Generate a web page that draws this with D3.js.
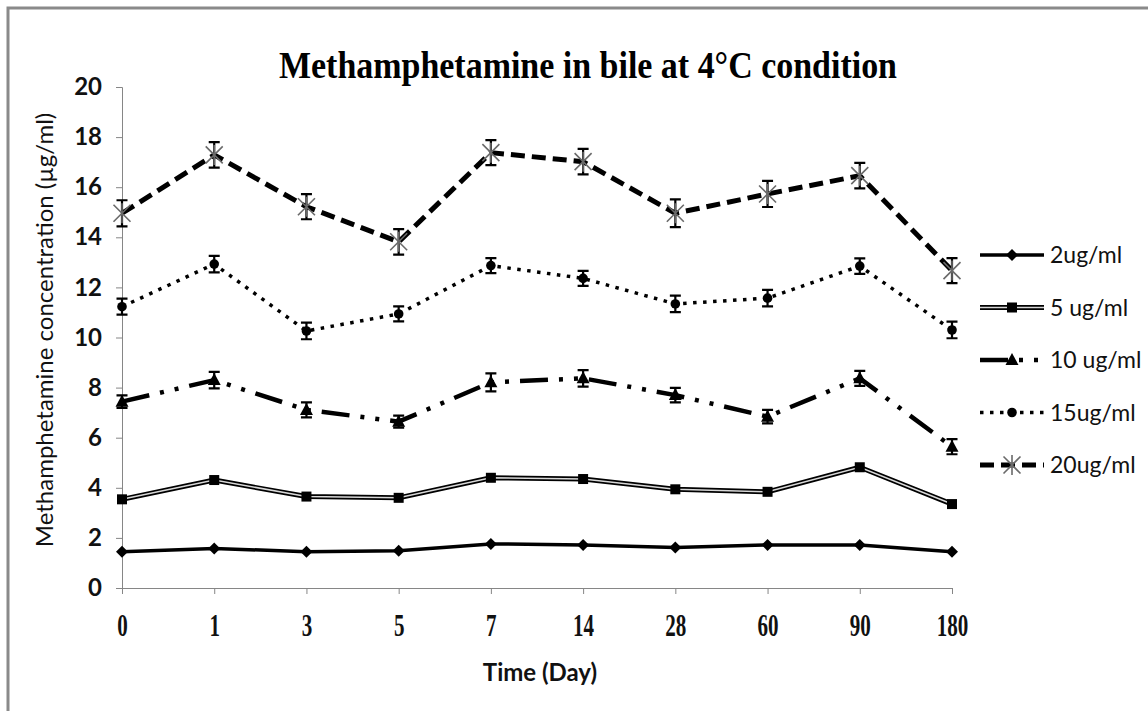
<!DOCTYPE html>
<html>
<head>
<meta charset="utf-8">
<script src="https://cdn.jsdelivr.net/npm/d3@7"></script>
<style>
  body { margin: 0; background: #fff; }
  svg { display: block; }
</style>
</head>
<body>
<svg class="visualization" width="1148" height="711"></svg>
<script>
    // values
    var days = ["0", "1", "3", "5", "7", "14", "28", "60", "90", "180"];
    var conc2 = [1.45, 1.58, 1.45, 1.49, 1.76, 1.72, 1.62, 1.72, 1.72, 1.45];
    var conc5 = [3.54, 4.31, 3.65, 3.60, 4.40, 4.35, 3.94, 3.84, 4.82, 3.35];
    var conc10 = [7.44, 8.30, 7.11, 6.64, 8.21, 8.37, 7.70, 6.84, 8.37, 5.64];
    var conc15 = [11.23, 12.93, 10.26, 10.94, 12.87, 12.36, 11.34, 11.57, 12.85, 10.30];
    var conc20 = [14.96, 17.29, 15.22, 13.82, 17.38, 17.02, 14.96, 15.73, 16.46, 12.67];
    var err10 = [0.25, 0.33, 0.30, 0.24, 0.36, 0.33, 0.29, 0.27, 0.30, 0.30];
    var err15 = [0.32, 0.33, 0.33, 0.30, 0.30, 0.30, 0.33, 0.33, 0.31, 0.33];
    var err20 = [0.52, 0.51, 0.50, 0.51, 0.50, 0.51, 0.55, 0.52, 0.51, 0.50];
    var seriesNames = ["2ug/ml", "5 ug/ml", "10 ug/ml", "15ug/ml", "20ug/ml"];
    var yTicks = [0, 2, 4, 6, 8, 10, 12, 14, 16, 18, 20];

    var svg = d3.select(".visualization");

    var xScale = d3.scalePoint().domain(days).range([122, 952]);
    var yScale = d3.scaleLinear().domain([0, 20]).range([588, 87]);

    // outer frame
    svg.append("rect")
        .attr("x", 8).attr("y", 8)
        .attr("width", 1300).attr("height", 900)
        .attr("fill", "#fff")
        .attr("stroke", "#8a8a8a")
        .attr("stroke-width", 3);

    // title (degree mark kept in the same text run)
    svg.append("text")
        .attr("x", 588).attr("y", 78)
        .attr("text-anchor", "middle")
        .attr("font-family", "'Liberation Serif', 'Times New Roman', serif")
        .attr("font-weight", "bold")
        .attr("font-size", 38)
        .attr("textLength", 618)
        .attr("lengthAdjust", "spacingAndGlyphs")
        .text("Methamphetamine in bile at 4\u00b0C condition");

    // axes
    var yAxis = svg.append("g")
        .attr("transform", "translate(122,0)")
        .call(d3.axisLeft(yScale).tickValues(yTicks).tickSize(6).tickPadding(14).tickFormat(d3.format("d")));
    yAxis.select(".domain").attr("stroke", "#868686");
    yAxis.selectAll(".tick line").attr("stroke", "#868686");
    yAxis.selectAll(".tick text")
        .attr("font-family", "Lato, 'Open Sans', sans-serif")
        .attr("font-weight", "bold")
        .attr("font-size", 24)
        .attr("fill", "#111");

    var xAxis = svg.append("g")
        .attr("transform", "translate(0,588)")
        .call(d3.axisBottom(xScale).tickSize(6).tickPadding(20));
    xAxis.select(".domain").attr("stroke", "#868686");
    xAxis.selectAll(".tick line").attr("stroke", "#868686");
    xAxis.selectAll(".tick text")
        .attr("font-family", "'Liberation Serif', 'Times New Roman', serif")
        .attr("font-weight", "bold")
        .attr("font-size", 31)
        .attr("fill", "#111")
        .attr("transform", "scale(0.68,1)");

    svg.append("text")
        .attr("x", 540).attr("y", 681)
        .attr("text-anchor", "middle")
        .attr("font-family", "Lato, 'Open Sans', sans-serif")
        .attr("font-weight", "bold")
        .attr("font-size", 24)
        .attr("fill", "#111")
        .text("Time (Day)");

    svg.append("text")
        .attr("transform", "translate(53,330) rotate(-90)")
        .attr("text-anchor", "middle")
        .attr("font-family", "Lato, 'Open Sans', sans-serif")
        .attr("font-size", 24)
        .attr("fill", "#111")
        .text("Methamphetamine concentration (\u00b5g/ml)");

    // marker shapes
    function drawMarker(g, kind) {
        if (kind === "diamond") {
            g.append("path").attr("d", "M0,-6L6,0L0,6L-6,0Z").attr("fill", "#000");
        } else if (kind === "square") {
            g.append("rect").attr("x", -5).attr("y", -5).attr("width", 10).attr("height", 10).attr("fill", "#000");
        } else if (kind === "triangle") {
            g.append("path").attr("d", "M0,-7L6.5,5L-6.5,5Z").attr("fill", "#000");
        } else if (kind === "circle") {
            g.append("circle").attr("r", 4.8).attr("fill", "#000");
        } else if (kind === "star") {
            g.append("path").attr("d", "M-8.5,-8.5L8.5,8.5M-8.5,8.5L8.5,-8.5M0,-10L0,10")
                .attr("stroke", "#6a6a6a").attr("stroke-width", 1.6).attr("fill", "none");
        }
    }

    var series = [
        { name: seriesNames[0], values: conc2, err: null, marker: "diamond", width: 3.5, dash: null },
        { name: seriesNames[1], values: conc5, err: null, marker: "square", width: 5, dash: null, inner: true },
        { name: seriesNames[2], values: conc10, err: err10, marker: "triangle", width: 4.5, dash: "28,11,4,11,4,11" },
        { name: seriesNames[3], values: conc15, err: err15, marker: "circle", width: 3.5, dash: "3.5,6.5" },
        { name: seriesNames[4], values: conc20, err: err20, marker: "star", width: 5, dash: "14,7" }
    ];

    var line = d3.line()
        .x(function (d, i) { return xScale(days[i]); })
        .y(function (d) { return yScale(d); });

    series.forEach(function (s) {
        var g = svg.append("g");
        g.append("path")
            .attr("d", line(s.values))
            .attr("fill", "none")
            .attr("stroke", "#000")
            .attr("stroke-width", s.width)
            .attr("stroke-dasharray", s.dash)
            .attr("stroke-linejoin", "round");
        if (s.inner) {
            g.append("path")
                .attr("d", line(s.values))
                .attr("fill", "none")
                .attr("stroke", "#d8d8d8")
                .attr("stroke-width", 1.6);
        }
        if (s.err) {
            s.values.forEach(function (v, i) {
                var cx = xScale(days[i]);
                var y1 = yScale(v + s.err[i]);
                var y2 = yScale(v - s.err[i]);
                g.append("path")
                    .attr("d", "M" + cx + "," + y1 + "V" + y2 +
                        "M" + (cx - 5.5) + "," + y1 + "H" + (cx + 5.5) +
                        "M" + (cx - 5.5) + "," + y2 + "H" + (cx + 5.5))
                    .attr("stroke", "#000")
                    .attr("stroke-width", 2.2)
                    .attr("fill", "none");
            });
        }
        s.values.forEach(function (v, i) {
            var m = g.append("g")
                .attr("transform", "translate(" + xScale(days[i]) + "," + yScale(v) + ")");
            drawMarker(m, s.marker);
        });
    });

    // legend
    var legend = svg.append("g");
    series.forEach(function (s, i) {
        var ly = 255 + i * 52.5;
        legend.append("line")
            .attr("x1", 980).attr("x2", 1044)
            .attr("y1", ly).attr("y2", ly)
            .attr("stroke", "#000")
            .attr("stroke-width", s.width)
            .attr("stroke-dasharray", s.dash);
        if (s.inner) {
            legend.append("line")
                .attr("x1", 980).attr("x2", 1044)
                .attr("y1", ly).attr("y2", ly)
                .attr("stroke", "#d8d8d8")
                .attr("stroke-width", 1.6);
        }
        var m = legend.append("g").attr("transform", "translate(1012," + ly + ")");
        drawMarker(m, s.marker);
        legend.append("text")
            .attr("x", 1050).attr("y", ly)
            .attr("dy", "0.35em")
            .attr("font-family", "Lato, 'Open Sans', sans-serif")
            .attr("font-size", 23)
            .attr("fill", "#111")
            .text(s.name);
    });
</script>
</body>
</html>
